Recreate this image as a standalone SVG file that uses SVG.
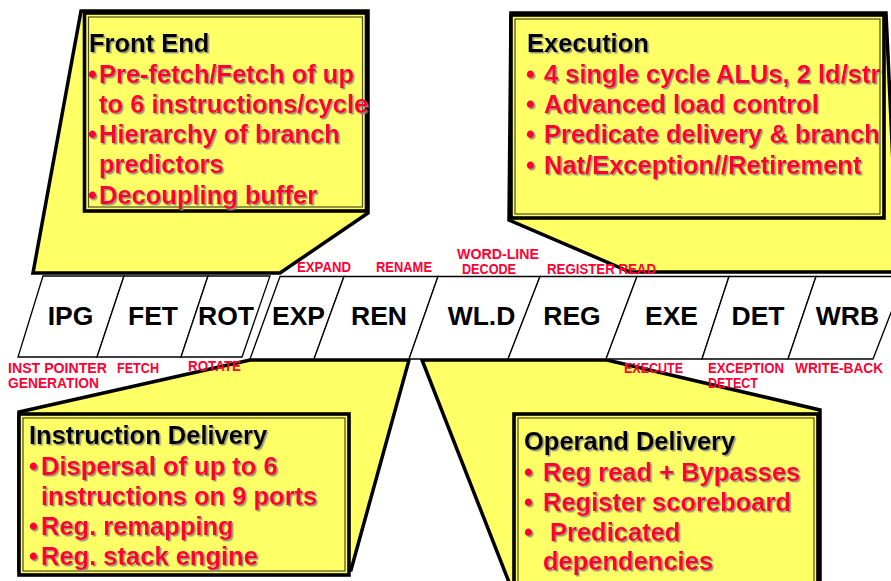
<svg xmlns="http://www.w3.org/2000/svg" width="891" height="581" viewBox="0 0 891 581">
  <defs>
    <style>
      .stage { fill: #ffffff; stroke: #000000; stroke-width: 1.3; stroke-linejoin: miter; }
      .stage-name { font-family: "Liberation Sans", Arial, sans-serif; font-weight: bold; font-size: 26.5px; fill: #000000; text-anchor: middle; }
      .tag { font-family: "Liberation Sans", Arial, sans-serif; font-weight: bold; font-size: 14px; fill: #ff0033; }
      .wedge { fill: #ffff66; stroke: #000000; stroke-width: 3.5; stroke-linejoin: miter; }
      .box-outer { fill: #ffff66; stroke: #000000; stroke-width: 3.6; }
      .box-inner { fill: none; stroke: #4d4d26; stroke-width: 1.2; }
      .title { font-family: "Liberation Sans", Arial, sans-serif; font-weight: bold; font-size: 25.5px; fill: #000000; }
      .item { font-family: "Liberation Sans", Arial, sans-serif; font-weight: bold; font-size: 25.5px; fill: #ff0033; }
    </style>
    <filter id="shade" x="-5%" y="-5%" width="110%" height="120%">
      <feDropShadow dx="1.5" dy="1.5" stdDeviation="0.4" flood-color="#8a8a7a" flood-opacity="0.9"/>
    </filter>
  </defs>

  <!-- pointer wedges linking each callout to its pipeline stages -->
  <g id="connectors">
    <polygon class="wedge" points="81,11 33,273 280,273 368,213 368,11"/>
    <polygon class="wedge" points="511,13 886,13 898,272 630,272 509,220"/>
    <polygon class="wedge" points="19,412 250,360 409,360 351,570 19,570"/>
    <polygon class="wedge" points="422,360 607,360 820,410 820,600 516,600"/>
  </g>

  <!-- pipeline stages: front end group -->
  <g id="stage-ipg">
    <polygon class="stage" points="43,276 124,276 97,357 18,357"/>
    <text class="stage-name" x="70.5" y="325">IPG</text>
  </g>
  <g id="stage-fet">
    <polygon class="stage" points="124,276 208,276 181,357 97,357"/>
    <text class="stage-name" x="153" y="325">FET</text>
  </g>
  <g id="stage-rot">
    <polygon class="stage" points="208,276 270,276 242,357 181,357"/>
    <text class="stage-name" x="226" y="325">ROT</text>
  </g>

  <!-- pipeline stages: back end group -->
  <g id="stage-exp">
    <polygon class="stage" points="280,276.5 344,276.5 314,359 250,359"/>
    <text class="stage-name" x="298.5" y="325">EXP</text>
  </g>
  <g id="stage-ren">
    <polygon class="stage" points="344,276.5 438,276.5 409,359 314,359"/>
    <text class="stage-name" x="379" y="325">REN</text>
  </g>
  <g id="stage-wld">
    <polygon class="stage" points="438,276.5 540,276.5 508,359 409,359"/>
    <text class="stage-name" x="481.5" y="325">WL.D</text>
  </g>
  <g id="stage-reg">
    <polygon class="stage" points="540,276.5 637,276.5 606,359 508,359"/>
    <text class="stage-name" x="572" y="325">REG</text>
  </g>
  <g id="stage-exe">
    <polygon class="stage" points="637,276.5 729,276.5 702,359 606,359"/>
    <text class="stage-name" x="671.5" y="325">EXE</text>
  </g>
  <g id="stage-det">
    <polygon class="stage" points="729,276.5 816,276.5 788,359 702,359"/>
    <text class="stage-name" x="758" y="325">DET</text>
  </g>
  <g id="stage-wrb">
    <polygon class="stage" points="816,276.5 905,276.5 873,359 788,359"/>
    <text class="stage-name" x="847.5" y="325">WRB</text>
  </g>

  <!-- callout: front end -->
  <g id="callout-front-end">
    <rect class="box-outer" x="84.5" y="13" width="282" height="198"/>
    <rect class="box-inner" x="88.5" y="17" width="274" height="190"/>
    <g filter="url(#shade)">
      <text class="title" x="89" y="52">Front End</text>
      <text class="item" x="88" y="83">•</text>
      <text class="item" x="99" y="83">Pre-fetch/Fetch of up</text>
      <text class="item" x="99" y="113">to 6 instructions/cycle</text>
      <text class="item" x="88" y="143">•</text>
      <text class="item" x="99" y="143">Hierarchy of branch</text>
      <text class="item" x="99" y="173">predictors</text>
      <text class="item" x="88" y="204">•</text>
      <text class="item" x="99" y="204">Decoupling buffer</text>
    </g>
  </g>

  <!-- callout: execution -->
  <g id="callout-execution">
    <rect class="box-outer" x="511" y="15" width="373" height="203"/>
    <rect class="box-inner" x="515" y="19" width="365" height="195"/>
    <g filter="url(#shade)">
      <text class="title" x="527" y="52">Execution</text>
      <text class="item" x="526" y="83">•</text>
      <text class="item" x="544" y="83">4 single cycle ALUs, 2 ld/str</text>
      <text class="item" x="526" y="113">•</text>
      <text class="item" x="544" y="113">Advanced load control</text>
      <text class="item" x="526" y="143">•</text>
      <text class="item" x="544" y="143">Predicate delivery &amp; branch</text>
      <text class="item" x="526" y="174">•</text>
      <text class="item" x="544" y="174">Nat/Exception//Retirement</text>
    </g>
  </g>

  <!-- callout: instruction delivery -->
  <g id="callout-instruction-delivery">
    <rect class="box-outer" x="19" y="414" width="330" height="161"/>
    <rect class="box-inner" x="23" y="418" width="322" height="153"/>
    <g filter="url(#shade)">
      <text class="title" x="29" y="444">Instruction Delivery</text>
      <text class="item" x="29" y="475">•</text>
      <text class="item" x="41" y="475">Dispersal of up to 6</text>
      <text class="item" x="41" y="505">instructions on 9 ports</text>
      <text class="item" x="29" y="535">•</text>
      <text class="item" x="41" y="535">Reg. remapping</text>
      <text class="item" x="29" y="565">•</text>
      <text class="item" x="41" y="565">Reg. stack engine</text>
    </g>
  </g>

  <!-- callout: operand delivery -->
  <g id="callout-operand-delivery">
    <rect class="box-outer" x="514" y="414" width="304" height="185"/>
    <rect class="box-inner" x="518" y="418" width="296" height="177"/>
    <g filter="url(#shade)">
      <text class="title" x="524" y="450">Operand Delivery</text>
      <text class="item" x="524" y="481">•</text>
      <text class="item" x="543" y="481">Reg read + Bypasses</text>
      <text class="item" x="524" y="511">•</text>
      <text class="item" x="543" y="511">Register scoreboard</text>
      <text class="item" x="524" y="541">•</text>
      <text class="item" x="550" y="541">Predicated</text>
      <text class="item" x="543" y="570">dependencies</text>
    </g>
  </g>

  <!-- stage descriptions above and below the pipeline -->
  <g id="stage-tags">
    <text class="tag" x="297" y="272" textLength="54" lengthAdjust="spacingAndGlyphs">EXPAND</text>
    <text class="tag" x="376" y="272" textLength="56" lengthAdjust="spacingAndGlyphs">RENAME</text>
    <text class="tag" x="457" y="259" textLength="82" lengthAdjust="spacingAndGlyphs">WORD-LINE</text>
    <text class="tag" x="462" y="274" textLength="54" lengthAdjust="spacingAndGlyphs">DECODE</text>
    <text class="tag" x="547" y="274" textLength="109" lengthAdjust="spacingAndGlyphs">REGISTER READ</text>
    <text class="tag" x="8" y="373" textLength="99" lengthAdjust="spacingAndGlyphs">INST POINTER</text>
    <text class="tag" x="8" y="388" textLength="91" lengthAdjust="spacingAndGlyphs">GENERATION</text>
    <text class="tag" x="117" y="373" textLength="42" lengthAdjust="spacingAndGlyphs">FETCH</text>
    <text class="tag" x="188" y="371" textLength="53" lengthAdjust="spacingAndGlyphs">ROTATE</text>
    <text class="tag" x="624" y="373" textLength="59" lengthAdjust="spacingAndGlyphs">EXECUTE</text>
    <text class="tag" x="708" y="373" textLength="76" lengthAdjust="spacingAndGlyphs">EXCEPTION</text>
    <text class="tag" x="708" y="388" textLength="50" lengthAdjust="spacingAndGlyphs">DETECT</text>
    <text class="tag" x="795" y="373" textLength="88" lengthAdjust="spacingAndGlyphs">WRITE-BACK</text>
  </g>
</svg>
